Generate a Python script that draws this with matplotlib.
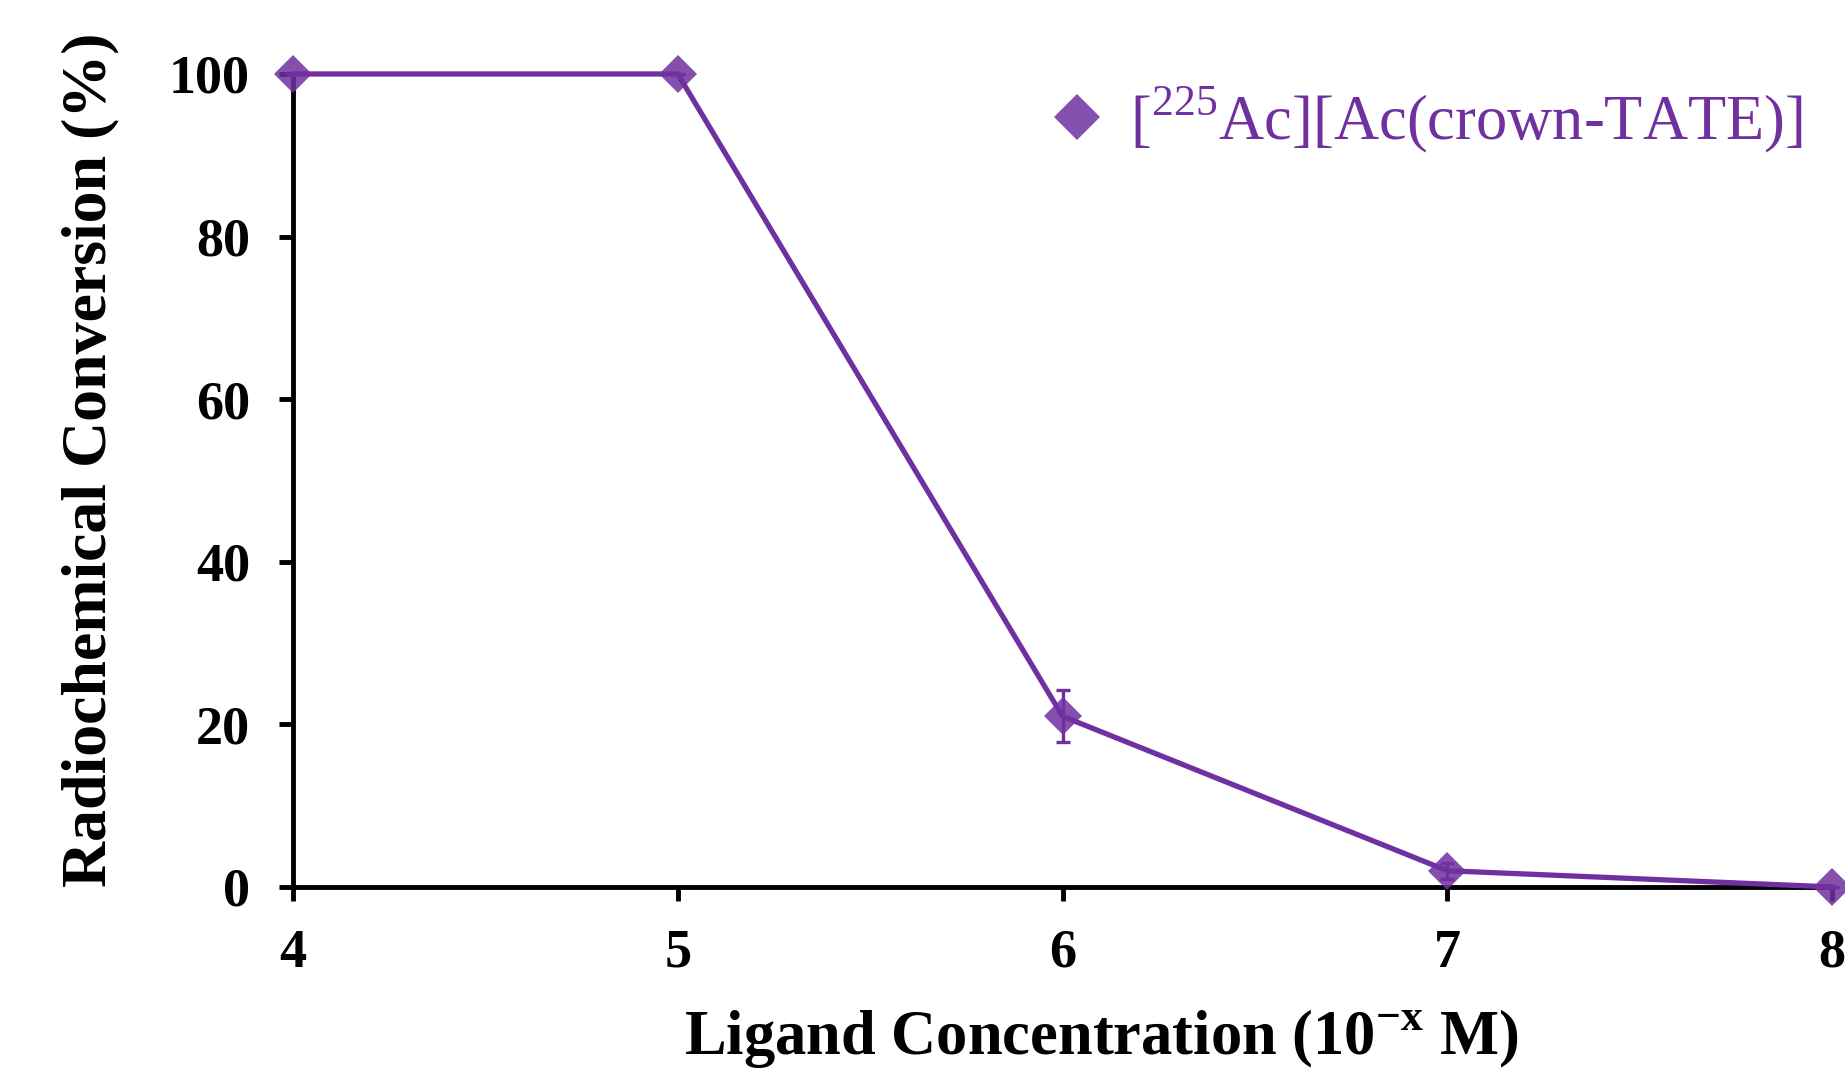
import matplotlib
matplotlib.use("Agg")
from matplotlib import pyplot as plt

# ligand concentration exponent (10^-x M) vs radiochemical conversion (%)
conc = [4, 5, 6, 7, 8]
rcc = [100, 100, 21, 2, 0]
rcc_err = [0, 0, 3.2, 1.0, 0]
series_label = r'[$^{225}$Ac][Ac(crown-TATE)]'

purple = '#7030A0'

plt.rcParams['font.family'] = ['Liberation Serif', 'DejaVu Serif']
plt.rcParams['mathtext.fontset'] = 'custom'
plt.rcParams['mathtext.rm'] = 'Liberation Serif'
plt.rcParams['mathtext.bf'] = 'Liberation Serif:bold'

fig = plt.figure(figsize=(18.45, 10.72), dpi=100)
ax = fig.add_axes([0.1588, 0.1726, 0.8342, 0.7584])

ax.plot(conc, rcc, color=purple, lw=3.8, zorder=3, clip_on=False)
ax.errorbar(conc, rcc, yerr=rcc_err, fmt='none', ecolor=purple, elinewidth=2.4,
            capsize=4.7, capthick=2.4, zorder=4, clip_on=False)
ax.plot(conc, rcc, ls='none', marker='D', ms=19, color=purple, alpha=0.85,
        mew=0, zorder=5, clip_on=False, label=series_label)

ax.set_xlim(4, 8)
ax.set_ylim(0, 100)
ax.set_xticks(conc)
ax.set_yticks([0, 20, 40, 60, 80, 100])

for s in ['top', 'right']:
    ax.spines[s].set_visible(False)
for s in ['left', 'bottom']:
    ax.spines[s].set_linewidth(3.5)

ax.tick_params(axis='both', direction='out', length=10, width=3.5, labelsize=39)
ax.tick_params(axis='x', pad=20)
ax.tick_params(axis='y', pad=21)
for lab in ax.get_xticklabels() + ax.get_yticklabels():
    lab.set_fontweight('bold')

ax.set_xlabel(r'Ligand Concentration (10$^{\mathbf{-x}}$ M)', fontsize=45, fontweight='bold')
ax.set_ylabel('Radiochemical Conversion (%)', fontsize=46, fontweight='bold')
ax.xaxis.set_label_coords(0.525, -0.148)
ax.yaxis.set_label_coords(-0.113, 0.525)

leg = ax.legend(loc='upper right', frameon=False, fontsize=45, handletextpad=0.35,
                handlelength=1.0, markerscale=1.25, borderaxespad=0.0,
                bbox_to_anchor=(0.997, 1.018))
for t in leg.get_texts():
    t.set_color(purple)

fig.savefig('out.png', dpi=100)
